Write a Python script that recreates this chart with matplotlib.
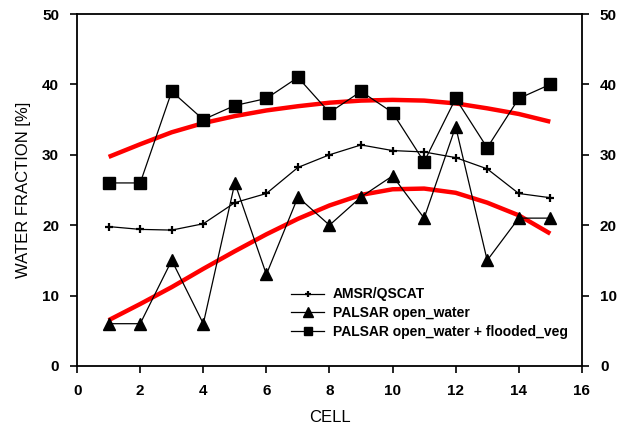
import matplotlib
matplotlib.use("Agg")
import matplotlib.pyplot as plt
from matplotlib.ticker import MultipleLocator

plt.rcParams['font.family'] = ['Liberation Sans', 'DejaVu Sans']

# data
cells = [1, 2, 3, 4, 5, 6, 7, 8, 9, 10, 11, 12, 13, 14, 15]
amsr = [19.8, 19.4, 19.3, 20.2, 23.2, 24.5, 28.2, 30.0, 31.4, 30.6, 30.4, 29.6, 28.0, 24.5, 23.9]
open_water = [6, 6, 15, 6, 26, 13, 24, 20, 24, 27, 21, 34, 15, 21, 21]
open_flooded = [26, 26, 39, 35, 37, 38, 41, 36, 39, 36, 29, 38, 31, 38, 40]
# red trend curves
trend_flooded = [29.7, 31.5, 33.2, 34.5, 35.5, 36.3, 36.9, 37.4, 37.7, 37.8, 37.7, 37.3, 36.6, 35.8, 34.7]
trend_open = [6.5, 8.8, 11.2, 13.8, 16.3, 18.7, 20.9, 22.8, 24.3, 25.1, 25.2, 24.6, 23.2, 21.4, 18.8]

fig = plt.figure(figsize=(6.17, 4.25), dpi=100)
ax = fig.add_axes([0.125, 0.139, 0.818, 0.828])

ax.plot(cells, trend_flooded, color='#ff0000', lw=3.2, zorder=3, solid_capstyle='butt')
ax.plot(cells, trend_open, color='#ff0000', lw=3.2, zorder=3, solid_capstyle='butt')

ax.plot(cells, amsr, color='black', lw=0.9, marker='+', ms=5.5, mew=1.6, zorder=4,
        label='AMSR/QSCAT')
ax.plot(cells, open_water, color='black', lw=0.9, marker='^', ms=9, zorder=4,
        label='PALSAR open_water')
ax.plot(cells, open_flooded, color='black', lw=0.9, marker='s', ms=8.3, zorder=4,
        label='PALSAR open_water + flooded_veg')

ax.set_xlim(0, 16)
ax.set_ylim(0, 50)
ax.xaxis.set_major_locator(MultipleLocator(2))
ax.yaxis.set_major_locator(MultipleLocator(10))
ax.tick_params(direction='out', length=5, width=1.2, labelsize=11, pad=8)
ax.tick_params(axis='y', right=True, labelright=True)
for lab in ax.get_xticklabels() + ax.get_yticklabels():
    lab.set_fontweight('bold')
for t in ax.yaxis.get_major_ticks():
    t.label2.set_fontweight('bold')
for sp in ax.spines.values():
    sp.set_linewidth(1.3)

ax.set_xlabel('CELL', fontsize=12, labelpad=9)
ax.set_ylabel('WATER FRACTION [%]', fontsize=12, labelpad=8)

leg = ax.legend(loc='lower left', bbox_to_anchor=(0.41, 0.058), frameon=False,
                fontsize=10, handlelength=2.4, handletextpad=0.6, labelspacing=0.33,
                borderpad=0, markerscale=0.75)
for t in leg.get_texts():
    t.set_fontweight('bold')

fig.savefig('out.png', dpi=100)
